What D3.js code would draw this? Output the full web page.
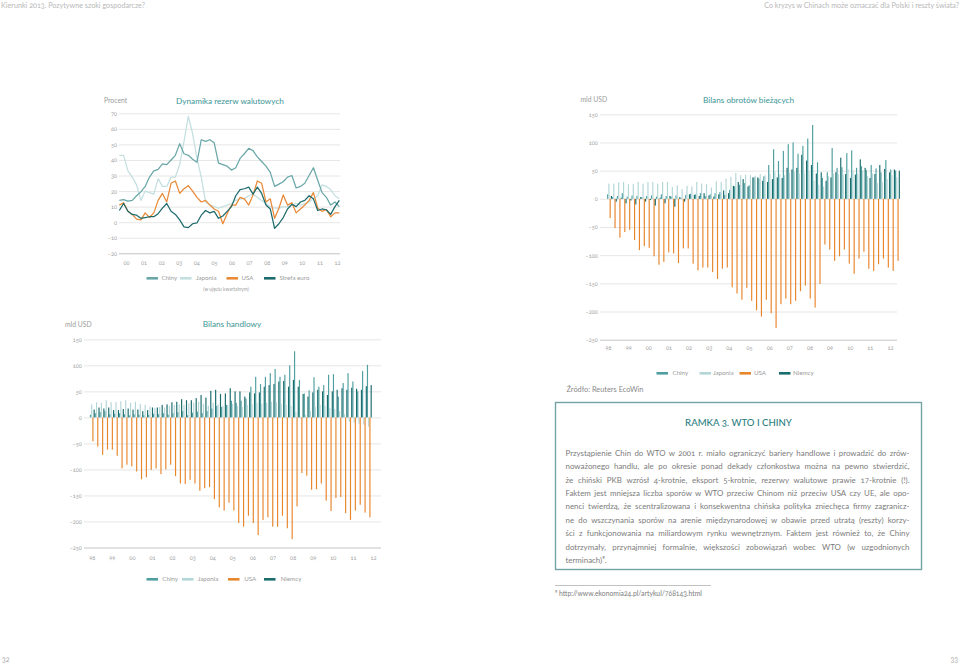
<!DOCTYPE html>
<html lang="pl">
<head>
<meta charset="utf-8">
<script src="https://cdn.jsdelivr.net/npm/d3@7/dist/d3.min.js"></script>
<style>
html,body{margin:0;padding:0;background:#fff;}
svg{display:block;}
text{font-family:Lato,"Open Sans","DejaVu Sans",sans-serif;font-variant-numeric:oldstyle-nums;}
</style>
</head>
<body>
<svg id="page" width="960" height="664" viewBox="0 0 960 664"></svg>
<script>
// ================= DATA =================
const rezYears = ["00","01","02","03","04","05","06","07","08","09","10","11","12"];
const rezTicks = [70,60,50,40,30,20,10,0,-10,-20];
const rezChiny = [14,14.5,13.5,14,17,19.5,23,29,33,34,37.5,37,40,43,50.5,44,43,40.5,38.5,53,52,53,51,38,37,36,33.5,35,41,44,47.5,46,42,39,36,32,23,24.5,26,29,30,22,23,25,30,35,27,19,16,11,13,10];
const rezJaponia = [43,43,33,29,24,14,20,19,18,28,23,23,29,29,37,52,68,57,41,29,13,11,10,9,10,11,12,14,15,15,17,18,16,14,12,10,9,9,10,10,11,12,11,12,13,15,17,24,23,21,17,15];
const rezUSA = [11,12.5,7,5,2,1.5,6,3,6,14,18.5,13,25,26.5,18.5,21.5,23.5,20,16,13,14,11,8.5,7,-1,5.5,11,11,16,15,11,17.5,26.5,25,13,15,2.5,9,17.5,11,12.5,6,8.5,11,14,19,9,7,8,3.5,6,6];
const rezEuro = [7.5,12,7,5,4.5,2.5,3,3.5,3.5,5.5,9,12,7,5,1.5,-3,-3.5,-1,-0.5,4.5,7.5,6,7,2.5,4,7,10,17,21,21.5,22.5,18,22.5,18.5,11,8.5,-4,-1,3,8.5,11.5,10,13,14,17,15,7.5,8.5,8,5,10,14];

const balYears = ["98","99","00","01","02","03","04","05","06","07","08","09","10","11","12"];
const balTicks = [150,100,50,0,-50,-100,-150,-200,-250];

// Bilans obrotów bieżących (quarterly, mld USD)
const caChiny = [8,3,5,10,4,6,5,3,5,6, 4,8,5,4,6,2,7,9,8,10, 5,8,10,12,7,16,22,25,28,24, 38,36,40,60,88,67,85,97,100,80, 94,107,131,65,37,47,90,55,56,81, 86,55,58,51,60,54,47,69,52,50];
const caJaponia = [27,27,29,30,26,26,30,27,30,30, 27,30,30,21,24,17,23,22,30,27, 26,20,31,30,36,39,46,42,43,42, 41,44,42,45,48,44,42,46,48,45, 46,48,32,25,22,40,45,44,43,52, 50,45,50,40,45,28,30,35,42,38];
const caUSA = [-34,-52,-69,-59,-55,-73,-91,-84,-87,-102, -117,-112,-95,-97,-114,-88,-88,-115,-127,-122, -122,-130,-142,-124,-122,-157,-168,-179,-158,-181, -198,-209,-179,-203,-229,-187,-177,-187,-181,-164, -154,-177,-193,-151,-81,-90,-110,-102,-90,-115, -133,-106,-94,-124,-128,-116,-106,-122,-128,-110];
const caNiemcy = [5,-5,2,-8,-3,-10,3,-5,-2,-12, 2,-8,5,-14,3,-5,8,7,5,10, 6,4,8,15,10,23,30,35,22,38, 38,32,30,35,38,37,55,52,55,78, 68,60,45,47,32,38,47,73,44,37, 43,70,55,37,44,60,53,47,52,50];

// Bilans handlowy (quarterly, mld USD)
const tbChiny = [5,8,10,12,6,7,8,6,4,6, 5,4,5,7,6,8,5,8,10,12, 4,9,11,8,12,17,22,20,24,32, 28,32,36,59,78,64,78,85,93,78, 82,100,127,72,46,52,77,59,62,82, 83,40,66,85,69,50,89,101];
const tbJaponia = [25,29,28,33,29,29,31,33,28,30, 26,24,21,18,20,19,22,24,25,24, 27,28,30,26,22,28,25,22,24,26, 22,20,24,25,28,26,28,30,29,26, 24,22,10,-2,5,12,20,24,22,18, 16,12,6,-8,-10,-12,-14,-18];
const tbUSA = [-46,-56,-72,-62,-62,-74,-98,-91,-94,-104, -119,-115,-101,-98,-109,-100,-91,-113,-127,-128, -120,-127,-141,-136,-134,-157,-173,-179,-164,-179, -203,-210,-189,-203,-226,-197,-192,-210,-210,-189, -213,-234,-171,-107,-112,-139,-138,-127,-160,-180, -155,-153,-184,-197,-179,-168,-183,-192];
const tbNiemcy = [15,19,17,19,14,14,16,17,15,15, 12,14,19,19,24,25,29,30,35,33, 33,37,43,38,51,53,45,46,56,50, 50,40,48,46,48,59,62,64,69,70, 59,72,59,45,40,48,53,50,43,50, 53,56,53,57,55,53,60,62];

const legendRez = ["Chiny","Japonia","USA","Strefa euro"];
const legendBal = ["Chiny","Japonia","USA","Niemcy"];

const boxTitle = "RAMKA 3. WTO I CHINY";
const boxLines = [
 "Przystąpienie Chin do WTO w 2001 r. miało ograniczyć bariery handlowe i prowadzić do zrów-",
 "noważonego handlu, ale po okresie ponad dekady członkostwa można na pewno stwierdzić,",
 "że chiński PKB wzrósł 4-krotnie, eksport 5-krotnie, rezerwy walutowe prawie 17-krotnie (!).",
 "Faktem jest mniejsza liczba sporów w WTO przeciw Chinom niż przeciw USA czy UE, ale opo-",
 "nenci twierdzą, że scentralizowana i konsekwentna chińska polityka zniechęca firmy zagranicz-",
 "ne do wszczynania sporów na arenie międzynarodowej w obawie przed utratą (reszty) korzy-",
 "ści z funkcjonowania na miliardowym rynku wewnętrznym. Faktem jest również to, że Chiny",
 "dotrzymały, przynajmniej formalnie, większości zobowiązań wobec WTO (w uzgodnionych",
 "terminach)⁹."
];

// ================= STYLE =================
const C = {chiny:"#4f9fa1", jap:"#b4d6d7", usa:"#e8862c", niem:"#1b6c6d",
           lChiny:"#6aa7a8", lJap:"#c4dfe0", lUSA:"#e98a38", lEuro:"#1d6b6c",
           title:"#3a9596", axis:"#a3a3a3", grid:"#e0e0e0", gridBase:"#c4c4c4"};

const svg = d3.select("#page");
const quarters = yrs => yrs.flatMap(y => ["Q1","Q2","Q3","Q4"].map(q => y + q));
const fmt = d => d < 0 ? "–" + Math.abs(d) : String(d);

function header(){
  svg.append("text").attr("x",1).attr("y",8).attr("font-size",7.2).attr("fill","#b8b8b8")
     .text("Kierunki 2013. Pozytywne szoki gospodarcze?");
  svg.append("text").attr("x",959).attr("y",8).attr("text-anchor","end").attr("font-size",7.2).attr("fill","#b8b8b8")
     .text("Co kryzys w Chinach może oznaczać dla Polski i reszty świata?");
  svg.append("text").attr("x",2).attr("y",662).attr("font-size",7).attr("fill","#aaa").text("32");
  svg.append("text").attr("x",958).attr("y",662).attr("text-anchor","end").attr("font-size",7).attr("fill","#aaa").text("33");
}

function yGridAndLabels(g, y, ticks, gx0, gx1, labelX){
  const grid = g.append("g").attr("transform",`translate(${gx0},0)`)
    .call(d3.axisLeft(y).tickValues(ticks).tickSize(-(gx1-gx0)).tickFormat(""));
  grid.select(".domain").remove();
  grid.selectAll(".tick line").attr("stroke", d => d === d3.min(ticks) ? C.gridBase : C.grid)
      .attr("stroke-width", d => d === d3.min(ticks) ? 1 : 0.8);
  const lab = g.append("g").attr("transform",`translate(${labelX},0)`)
    .call(d3.axisLeft(y).tickValues(ticks).tickSize(0).tickPadding(0).tickFormat(fmt));
  lab.select(".domain").remove();
  lab.selectAll("text").attr("font-size",5.6).attr("fill",C.axis).attr("font-family",null).attr("dy","0.35em");
}

function xLabels(g, domain, x0, x1, yPos){
  const xs = d3.scalePoint().domain(domain).range([x0,x1]);
  const ax = g.append("g").attr("transform",`translate(0,${yPos})`)
    .call(d3.axisBottom(xs).tickSize(0).tickPadding(0));
  ax.select(".domain").remove();
  ax.selectAll("text").attr("font-size",5.6).attr("fill",C.axis).attr("font-family",null).attr("y",0).attr("dy","0.35em");
}

function legend(g, names, colors, swX, txX, yPos){
  names.forEach((n,i) => {
    g.append("rect").attr("x",swX[i]).attr("y",yPos-1.3).attr("width",11.5).attr("height",2.6).attr("fill",colors[i]);
    g.append("text").attr("x",txX[i]).attr("y",yPos).attr("dy","0.35em").attr("font-size",6.2).attr("fill","#9a9a9a").text(n);
  });
}

function titles(g, unit, ux, title, tx, yPos){
  g.append("text").attr("x",ux).attr("y",yPos).attr("dy","0.35em").attr("font-size",6.8).attr("fill","#9c9c9c").text(unit);
  g.append("text").attr("x",tx).attr("y",yPos).attr("dy","0.35em").attr("text-anchor","middle").attr("font-size",8.2).attr("fill",C.title).text(title);
}

// ---------- Chart 1: Dynamika rezerw walutowych ----------
function chartRez(){
  const g = svg.append("g");
  titles(g, "Procent", 104, "Dynamika rezerw walutowych", 230, 101);
  const y = d3.scaleLinear().domain([-20,70]).range([253.3,113.3]);
  yGridAndLabels(g, y, rezTicks, 119, 340, 117);
  xLabels(g, rezYears, 126, 337, 263.5);
  const qs = quarters(rezYears);
  const x = d3.scalePoint().domain(qs).range([119.3,339.3]);
  const series = [[rezJaponia,C.lJap],[rezChiny,C.lChiny],[rezUSA,C.lUSA],[rezEuro,C.lEuro]];
  const line = d3.line().x((d,i)=>x(qs[i])).y(d=>y(d));
  series.forEach(([data,col]) => {
    g.append("path").datum(data).attr("d",line).attr("fill","none").attr("stroke",col)
     .attr("stroke-width",1.25).attr("stroke-linejoin","round");
  });
  legend(g, legendRez, [C.lChiny,C.lJap,C.lUSA,C.lEuro], [146.5,180,226.5,264], [161.5,196,241.5,279.5], 278.3);
  g.append("text").attr("x",226).attr("y",289.5).attr("dy","0.35em").attr("text-anchor","middle")
   .attr("font-size",4.8).attr("fill","#a0a0a0").text("(w ujęciu kwartalnym)");
}

// ---------- Bar charts ----------
function barChart(cfg){
  const g = svg.append("g");
  titles(g, "mld USD", cfg.unitX, cfg.title, cfg.titleX, cfg.titleY);
  const y = d3.scaleLinear().domain([-250,150]).range([cfg.yBottom, cfg.yTop]);
  yGridAndLabels(g, y, balTicks, cfg.gx0, cfg.gx1, cfg.labelX);
  xLabels(g, balYears, cfg.lx0, cfg.lx1, cfg.xLabelY);
  const n = cfg.series[0].length;
  const qs = quarters(balYears).slice(0, n);
  const xb = d3.scaleBand().domain(qs).range([cfg.bx0, cfg.bx1]).paddingInner(0).paddingOuter(0);
  const names = legendBal;
  const xi = d3.scaleBand().domain(names).range([0, xb.bandwidth()]).paddingInner(0.06);
  const cols = [C.chiny, C.jap, C.usa, C.niem];
  names.forEach((name, s) => {
    g.append("g").selectAll("rect").data(cfg.series[s]).join("rect")
      .attr("x", (d,i) => xb(qs[i]) + xi(name))
      .attr("width", xi.bandwidth())
      .attr("y", d => Math.min(y(d), y(0)))
      .attr("height", d => Math.abs(y(d) - y(0)))
      .attr("fill", cols[s]);
  });
  legend(g, legendBal, cols, cfg.swX, cfg.txX, cfg.legendY);
}

function textBox(){
  const g = svg.append("g");
  g.append("rect").attr("x",555.5).attr("y",402.5).attr("width",366).attr("height",167)
   .attr("fill","none").attr("stroke","#74a3a4").attr("stroke-width",1.4);
  g.append("text").attr("x",738.5).attr("y",422.5).attr("dy","0.35em").attr("text-anchor","middle")
   .attr("font-size",9.6).attr("fill","#2c7e7f").attr("font-weight",500).text(boxTitle);
  const x0 = 565.5, x1 = 909.5, y0 = 453, lh = 13.4;
  boxLines.forEach((ln, i) => {
    const t = g.append("text").attr("x",x0).attr("y",y0 + i*lh).attr("dy","0.35em")
      .attr("font-size",7.9).attr("fill","#7c7c7c").text(ln);
    if (i < boxLines.length - 1) {
      const w = t.node().getComputedTextLength();
      const spaces = (ln.match(/ /g) || []).length;
      if (spaces) t.attr("word-spacing", ((x1 - x0) - w) / spaces);
    }
  });
  g.append("line").attr("x1",555).attr("x2",711).attr("y1",585.5).attr("y2",585.5)
   .attr("stroke","#a8a8a8").attr("stroke-width",0.7);
  g.append("text").attr("x",555).attr("y",594).attr("dy","0.35em").attr("font-size",6.8)
   .attr("fill","#7c7c7c").text("⁹ http://www.ekonomia24.pl/artykul/768143.html");
}

header();
chartRez();
barChart({title:"Bilans obrotów bieżących", titleX:748.5, titleY:100, unitX:580.5,
  yTop:114.3, yBottom:339.7, gx0:600, gx1:897, labelX:597.8,
  lx0:608, lx1:890, xLabelY:348.5,
  bx0:607.1, bx1:899.9,
  series:[caChiny, caJaponia, caUSA, caNiemcy],
  swX:[656.5,699.5,739.5,779], txX:[672.5,713,754,793], legendY:373.3});
svg.append("text").attr("x",566.5).attr("y",389).attr("dy","0.35em").attr("font-size",7.4).attr("fill","#8a8a8a").text("Źródło: Reuters EcoWin");
barChart({title:"Bilans handlowy", titleX:232, titleY:324.5, unitX:65,
  yTop:339.3, yBottom:547.5, gx0:84, gx1:381, labelX:81.7,
  lx0:91.7, lx1:373, xLabelY:557.8,
  bx0:89.87, bx1:371.75,
  series:[tbChiny, tbJaponia, tbUSA, tbNiemcy],
  swX:[146.5,182,228,264], txX:[162.3,197.7,244.3,280.7], legendY:579.3});
textBox();
</script>
</body>
</html>
